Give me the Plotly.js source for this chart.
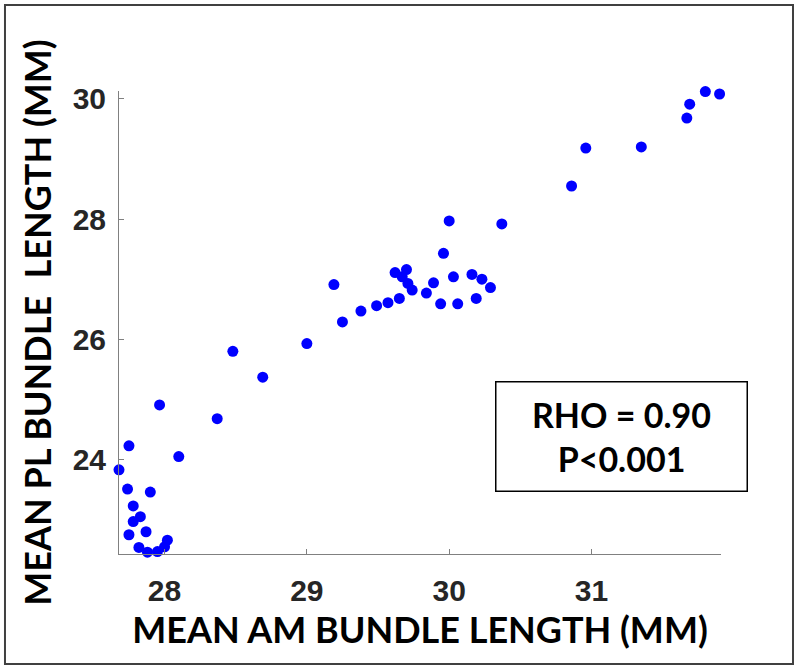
<!DOCTYPE html>
<html>
<head>
<meta charset="utf-8">
<script src="https://cdn.plot.ly/plotly-3.0.1.min.js"></script>
<style>
html,body{margin:0;padding:0;background:#fff;}
#chart{width:800px;height:671px;}
</style>
</head>
<body>
<div id="chart"></div>
<script>
// Mean AM bundle length (mm)
var amLength = [31.80, 31.90, 31.69, 31.67, 31.35, 30.96, 30.86, 30.37, 30.00, 29.96,
  29.19, 29.62, 29.70, 29.67, 29.71, 29.74, 29.65, 29.57, 29.49, 29.38,
  29.25, 29.84, 29.89, 29.94, 30.03, 30.16, 30.23, 30.29, 30.19, 30.06,
  29.00, 28.48, 28.69, 28.37, 27.965, 28.10, 27.75, 27.68, 27.74, 27.90,
  27.78, 27.83, 27.78, 27.87, 27.75, 28.02, 28.00, 27.82, 27.88, 27.95];
// Mean PL bundle length (mm)
var plLength = [30.12, 30.08, 29.91, 29.68, 29.20, 29.18, 28.55, 27.92, 27.97, 27.43,
  26.91, 27.11, 27.16, 27.04, 26.93, 26.82, 26.68, 26.61, 26.56, 26.47,
  26.29, 26.77, 26.94, 26.59, 27.04, 27.08, 27.00, 26.86, 26.68, 26.59,
  25.93, 25.80, 25.37, 24.68, 24.91, 24.05, 24.23, 23.83, 23.51, 23.46,
  23.23, 23.05, 22.97, 22.80, 22.75, 22.66, 22.55, 22.54, 22.46, 22.47];

var xTicks = [28, 29, 30, 31];
var yTicks = [24, 26, 28, 30];
var xTitle = "MEAN AM BUNDLE LENGTH (MM)";
var yTitle = "MEAN PL BUNDLE&nbsp; LENGTH (MM)";
var statsText = "RHO = 0.90<br>P&lt;0.001";

var tickFont = {family: "Liberation Sans, Arial, sans-serif", size: 30, color: "#262626", weight: 700};
var titleFont = {family: "Lato, Open Sans, sans-serif", size: 36, color: "#000", weight: 700};

var trace = {
  x: amLength,
  y: plLength,
  type: "scatter",
  mode: "markers",
  marker: {color: "#0000FF", size: 11},
  cliponaxis: false,
  hoverinfo: "x+y"
};

var layout = {
  width: 800,
  height: 671,
  paper_bgcolor: "#fff",
  plot_bgcolor: "#fff",
  showlegend: false,
  margin: {l: 119, r: 79, t: 91, b: 117},
  xaxis: {
    range: [27.68, 31.91],
    tickvals: xTicks,
    ticktext: xTicks.map(String),
    ticks: "inside",
    ticklen: 5,
    tickcolor: "#808080",
    showline: true,
    linecolor: "#808080",
    linewidth: 1,
    showgrid: false,
    zeroline: false,
    mirror: false,
    tickfont: tickFont,
    ticklabelstandoff: 10,
    title: {text: xTitle, font: titleFont, standoff: 2}
  },
  yaxis: {
    range: [22.43, 30.13],
    tickvals: yTicks,
    ticktext: yTicks.map(String),
    ticks: "inside",
    ticklen: 5,
    tickcolor: "#808080",
    showline: true,
    linecolor: "#808080",
    linewidth: 1,
    showgrid: false,
    zeroline: false,
    mirror: false,
    tickfont: tickFont,
    ticklabelstandoff: 6,
    title: {text: yTitle, font: titleFont, standoff: 10}
  },
  annotations: [{
    xref: "paper", yref: "paper",
    x: 0.834, y: 0.2527,
    xanchor: "center", yanchor: "middle",
    text: statsText,
    showarrow: false,
    width: 248, height: 106,
    bordercolor: "#000",
    borderwidth: 1.5,
    bgcolor: "#fff",
    font: {family: "Lato, Open Sans, sans-serif", size: 34, color: "#000", weight: 700}
  }],
  shapes: [{
    type: "rect",
    xref: "paper", yref: "paper",
    x0: -0.1894, x1: 1.1196,
    y0: -0.2376, y1: 1.1857,
    line: {color: "#404040", width: 2},
    fillcolor: "rgba(0,0,0,0)",
    layer: "above"
  }]
};

Plotly.newPlot("chart", [trace], layout, {displayModeBar: false, staticPlot: true});
</script>
</body>
</html>
